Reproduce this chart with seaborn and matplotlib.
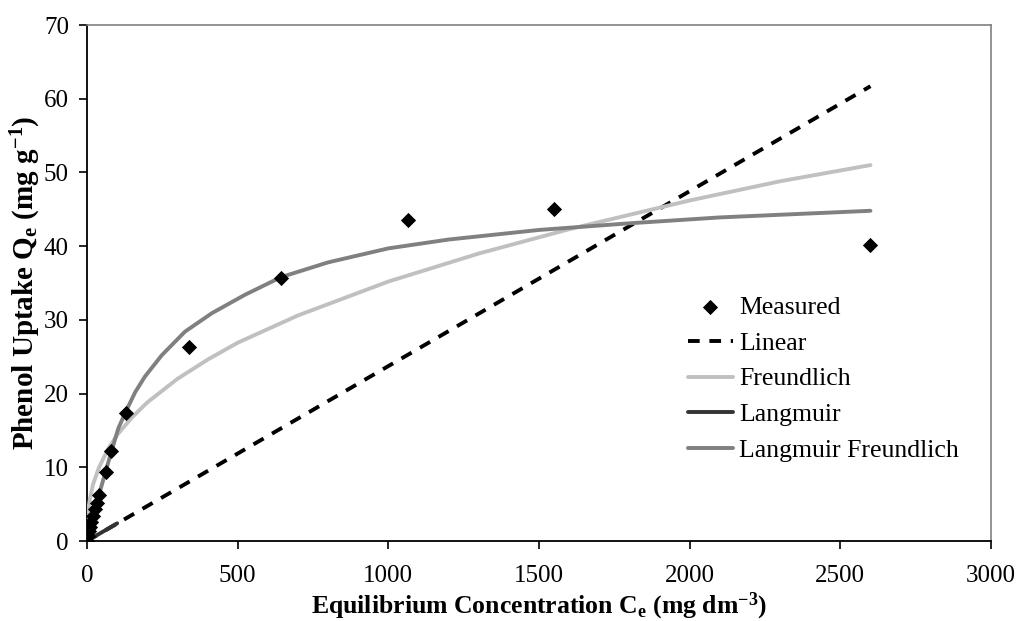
import matplotlib
matplotlib.use("Agg")
import matplotlib.pyplot as plt
import seaborn as sns
import pandas as pd

# Measured equilibrium data
measured_c = [0, 3, 6, 10, 14, 19, 25, 33, 40, 62, 80, 128, 340, 645, 1065, 1550, 2600]
measured_q = [0, 0.7, 1.3, 1.9, 2.6, 3.4, 4.3, 5.2, 6.2, 9.3, 12.2, 17.4, 26.3, 35.7, 43.5, 45.1, 40.2]

# Model curves
linear_c = [0, 2600]
linear_q = [0, 61.7]

freundlich_c = [0, 0.5, 2, 5, 10, 20, 40, 70, 100, 150, 200, 300, 400, 500, 700,
                1000, 1300, 1600, 2000, 2300, 2600]
freundlich_q = [0, 1.8, 3.1, 4.5, 5.8, 7.7, 10.0, 12.5, 14.4, 16.8, 18.8, 22.0, 24.6,
                26.9, 30.6, 35.2, 39.0, 42.3, 46.2, 48.8, 51.0]

langmuir_c = [0, 100]
langmuir_q = [0, 2.4]

lf_c = [0, 10, 20, 40, 60, 80, 104, 128, 160, 192, 248, 325, 414, 524, 644, 800,
        1000, 1200, 1500, 1800, 2100, 2600]
lf_q = [0, 1.6, 3.3, 6.3, 9.2, 12.0, 15.3, 17.5, 20.2, 22.3, 25.2, 28.4, 30.9, 33.4,
        35.8, 37.8, 39.7, 40.9, 42.2, 43.1, 43.9, 44.8]

sns.set_style("ticks")
plt.rcParams["font.family"] = ["Liberation Serif", "DejaVu Serif"]
plt.rcParams["mathtext.fontset"] = "custom"
plt.rcParams["mathtext.rm"] = "Liberation Serif"
plt.rcParams["mathtext.bf"] = "Liberation Serif:bold"
plt.rcParams["mathtext.it"] = "Liberation Serif:italic"
plt.rcParams["text.color"] = "black"
plt.rcParams["axes.labelcolor"] = "black"
plt.rcParams["xtick.color"] = "black"
plt.rcParams["ytick.color"] = "black"

fig = plt.figure(figsize=(10.19, 6.21), dpi=100)
ax = fig.add_axes([0.0854, 0.1288, 0.9725 - 0.0854, 0.9597 - 0.1288])

meas = pd.DataFrame({"C": measured_c, "Q": measured_q})
lin = pd.DataFrame({"C": linear_c, "Q": linear_q})
fre = pd.DataFrame({"C": freundlich_c, "Q": freundlich_q})
lan = pd.DataFrame({"C": langmuir_c, "Q": langmuir_q})
lfr = pd.DataFrame({"C": lf_c, "Q": lf_q})

sns.lineplot(data=lin, x="C", y="Q", ax=ax, color="black", lw=2.8,
             dashes=False, sort=False, estimator=None, label="Linear", zorder=3)
ax.lines[-1].set_dashes((3.0, 2.5))
sns.lineplot(data=fre, x="C", y="Q", ax=ax, color="#c0c0c0", lw=2.8,
             sort=False, estimator=None, label="Freundlich", zorder=3)
sns.lineplot(data=lan, x="C", y="Q", ax=ax, color="#333333", lw=2.8,
             sort=False, estimator=None, label="Langmuir", zorder=4)
sns.lineplot(data=lfr, x="C", y="Q", ax=ax, color="#808080", lw=2.8,
             sort=False, estimator=None, label="Langmuir Freundlich", zorder=4)
sns.scatterplot(data=meas, x="C", y="Q", ax=ax, marker="D", color="black",
                s=60, edgecolor="black", linewidth=0, label="Measured", zorder=5)

ax.set_xlim(0, 3000)
ax.set_ylim(0, 70)
ax.set_xticks(range(0, 3001, 500))
ax.set_yticks(range(0, 71, 10))
ax.tick_params(axis="both", direction="out", length=6, width=1.2, color="black",
               labelcolor="black", labelsize=18)
ax.tick_params(axis="x", pad=11)
ax.tick_params(axis="y", pad=7)

for side in ("left", "bottom"):
    ax.spines[side].set_color("black")
    ax.spines[side].set_linewidth(1.3)
for side in ("top", "right"):
    ax.spines[side].set_visible(True)
    ax.spines[side].set_color("#808080")
    ax.spines[side].set_linewidth(1.2)

ax.set_xlabel(r"Equilibrium Concentration C$_\mathbf{e}$ (mg dm$^\mathbf{-3}$)",
              fontsize=18.5, fontweight="bold", labelpad=3, color="black")
ax.set_ylabel(r"Phenol Uptake Q$_\mathbf{e}$ (mg g$^\mathbf{-1}$)",
              fontsize=21, fontweight="bold", labelpad=1, color="black")

handles, labels = ax.get_legend_handles_labels()
order = ["Measured", "Linear", "Freundlich", "Langmuir", "Langmuir Freundlich"]
hmap = dict(zip(labels, handles))
leg = ax.legend([hmap[k] for k in order], order, loc="center left",
                bbox_to_anchor=(688 / 1019, 1 - 379 / 621),
                bbox_transform=fig.transFigure, frameon=False, fontsize=18.5,
                handlelength=1.75, handletextpad=0.25, labelspacing=0.5,
                borderpad=0, borderaxespad=0, labelcolor="black")

fig.savefig("out.png", dpi=100)
